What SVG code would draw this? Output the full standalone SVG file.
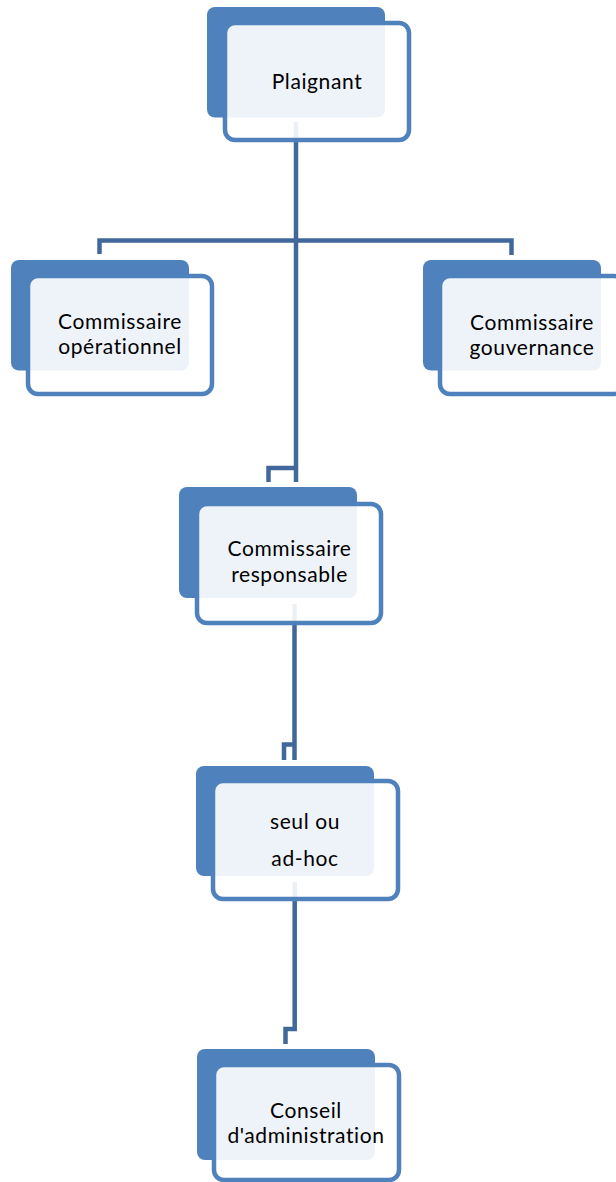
<svg xmlns="http://www.w3.org/2000/svg" width="616" height="1182" viewBox="0 0 616 1182">
<style>
.back{fill:#4F81BD}
.front{fill:#FFFFFF;fill-opacity:0.9;stroke:#4F81BD;stroke-width:4.5}
.conn{fill:none;stroke:#41689B;stroke-width:4.5;stroke-linejoin:miter;stroke-linecap:butt}
text{font-family:Lato,"Open Sans",sans-serif;font-size:21px;letter-spacing:0.6px;font-variant-ligatures:none;fill:#000;text-anchor:middle}
</style>
<rect width="616" height="1182" fill="#FFFFFF"/>
<g id="connectors">
<path class="conn" d="M296,122 V482"/>
<path class="conn" d="M99.5,254 V240.5 H511.5 V255"/>
<path class="conn" d="M268.5,482 V468 H296"/>
<path class="conn" d="M294.5,604 V760"/>
<path class="conn" d="M284,760 V744.5 H294.5"/>
<path class="conn" d="M294.7,882 V1029 H285.5 V1044"/>
</g>
<g id="node-plaignant">
<rect class="back" x="207" y="7" width="178" height="110.5" rx="8"/>
<rect class="front" x="225" y="23" width="184" height="117" rx="10"/>
<text x="317" y="89">Plaignant</text>
</g>
<g id="node-commissaire-operationnel">
<rect class="back" x="11" y="260" width="178" height="110.5" rx="8"/>
<rect class="front" x="28" y="276" width="184" height="118" rx="10"/>
<text x="120" y="329">Commissaire</text>
<text x="120" y="354">opérationnel</text>
</g>
<g id="node-commissaire-gouvernance">
<rect class="back" x="423" y="260" width="178" height="110.5" rx="8"/>
<rect class="front" x="440" y="276" width="184" height="118" rx="10"/>
<text x="532" y="330">Commissaire</text>
<text x="532" y="355">gouvernance</text>
</g>
<g id="node-commissaire-responsable">
<rect class="back" x="179" y="487" width="178" height="111" rx="8"/>
<rect class="front" x="197" y="504" width="184" height="119" rx="10"/>
<text x="289.5" y="556">Commissaire</text>
<text x="289.5" y="581.5">responsable</text>
</g>
<g id="node-seul-ou-ad-hoc">
<rect class="back" x="196" y="766" width="178" height="110" rx="8"/>
<rect class="front" x="213" y="781" width="185" height="118" rx="10"/>
<text x="305" y="829">seul ou</text>
<text x="305" y="866">ad-hoc</text>
</g>
<g id="node-conseil">
<rect class="back" x="197" y="1049" width="178" height="111" rx="8"/>
<rect class="front" x="214" y="1065" width="185" height="115" rx="10"/>
<text x="306" y="1118">Conseil</text>
<text x="306" y="1143">d'administration</text>
</g>
</svg>
